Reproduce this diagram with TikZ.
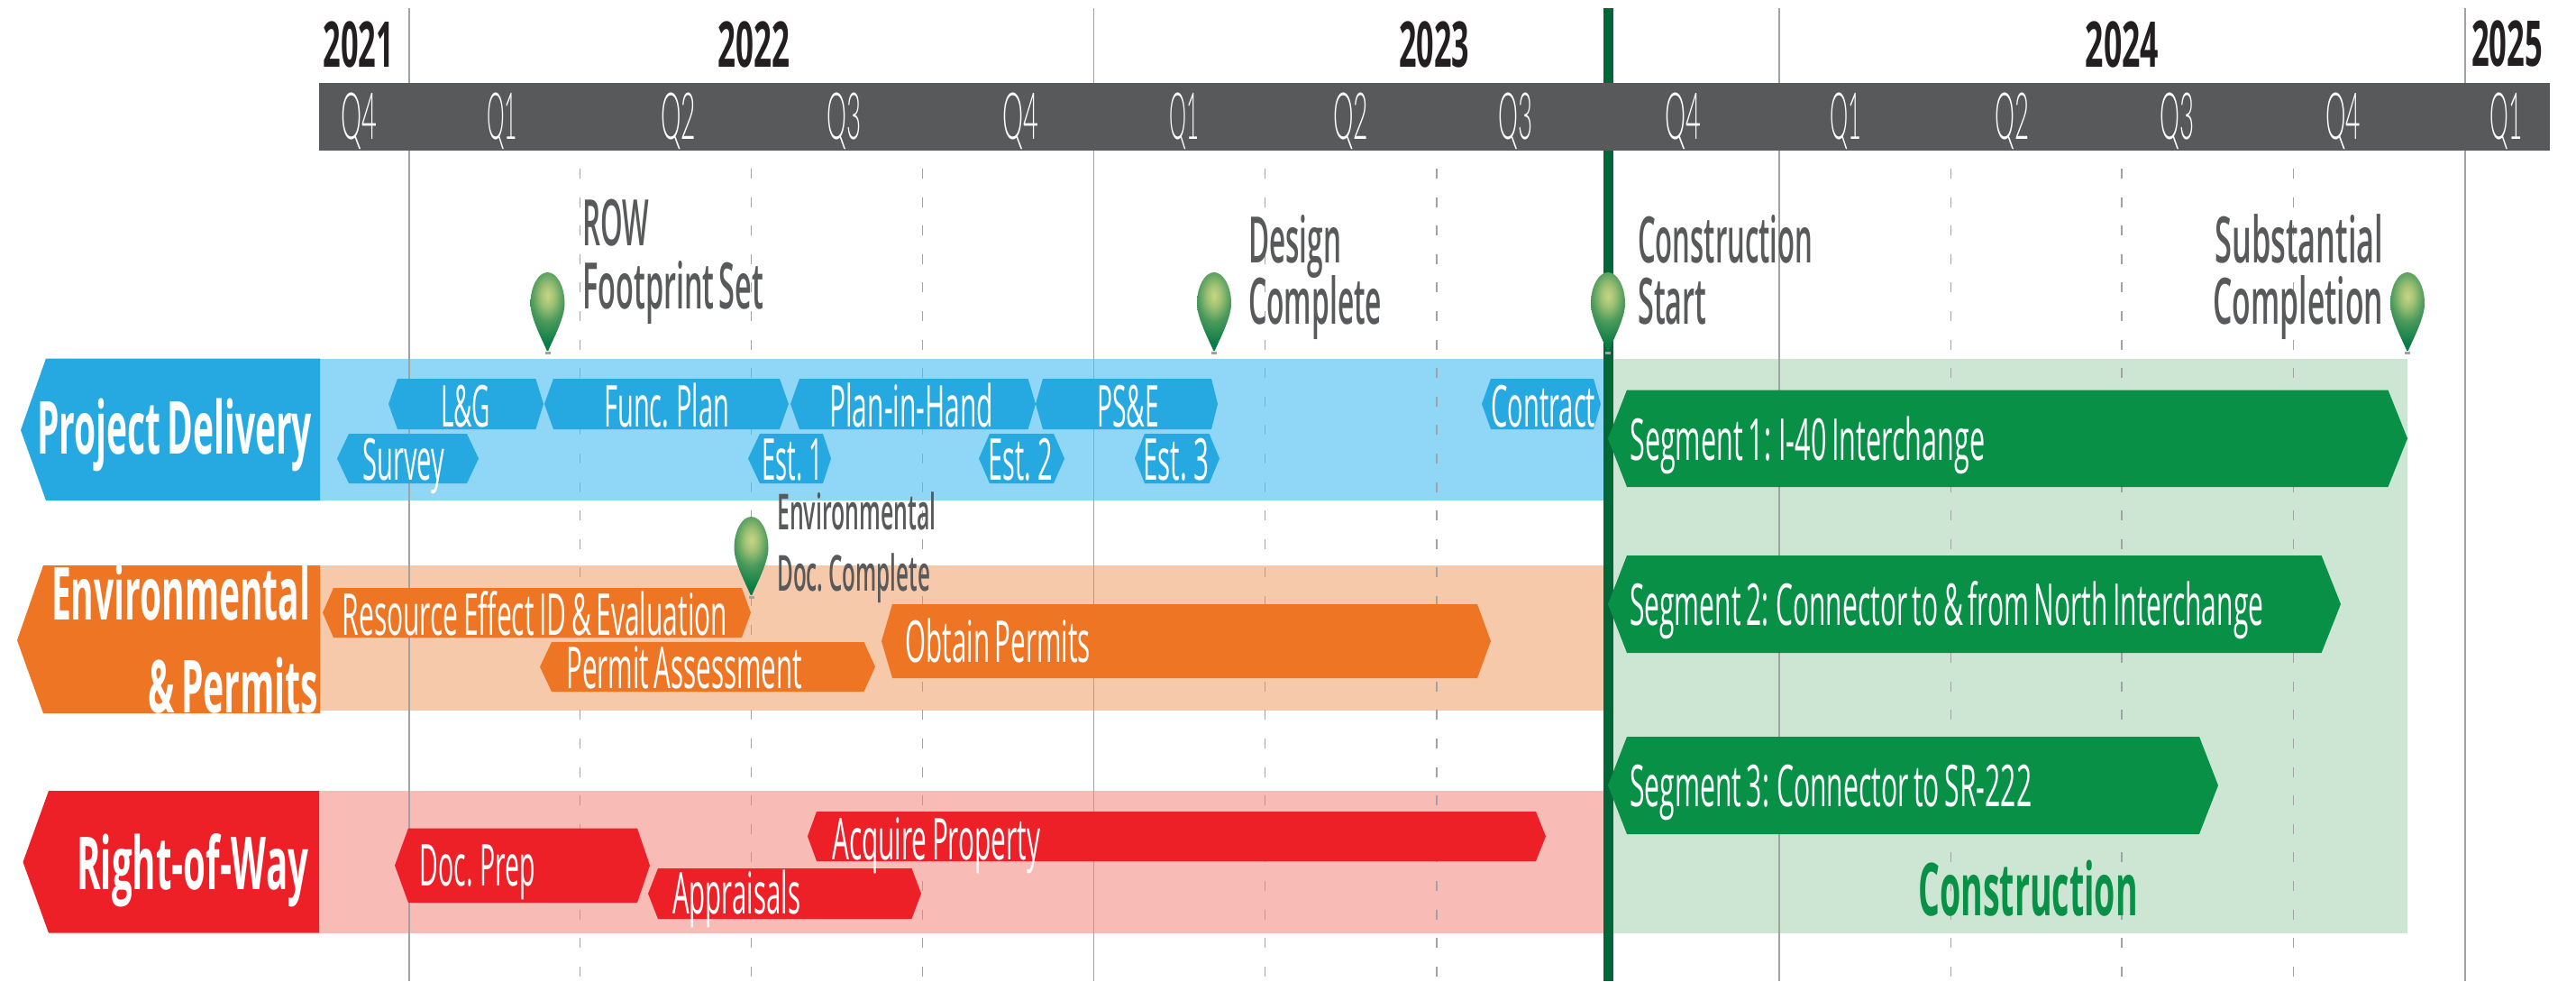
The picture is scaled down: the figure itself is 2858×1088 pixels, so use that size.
\documentclass[tikz,border=0pt]{standalone}
\usepackage{fontspec}
\usepackage{graphicx}
\setmainfont{Open Sans}
\newfontfamily\freg{Open Sans}[WordSpace=0.8]
\newfontfamily\fmid{Open Sans Semibold}[WordSpace=0.6]
\newfontfamily\fbold{Open Sans}[WordSpace=0.7,BoldFont={Open Sans Bold}]
\newcommand\fb{\fbold\bfseries}
\newfontfamily\flight{Lato Light}
\definecolor{bluehead}{HTML}{26A9E0}
\definecolor{blueband}{HTML}{8FD6F7}
\definecolor{orangehead}{HTML}{EE7524}
\definecolor{orangeband}{HTML}{F7C9AB}
\definecolor{redhead}{HTML}{ED1F27}
\definecolor{redband}{HTML}{F8BBB6}
\definecolor{greenhead}{HTML}{089146}
\definecolor{greenband}{HTML}{CDE6D4}
\definecolor{greenline}{HTML}{006837}
\definecolor{darkbar}{HTML}{58595B}
\definecolor{textgray}{HTML}{58595B}
\definecolor{yearblack}{HTML}{231F20}
\definecolor{pina}{HTML}{C8D585}
\definecolor{pinb}{HTML}{A0C274}
\definecolor{pinc}{HTML}{4C9A5C}
\definecolor{pind}{HTML}{0A7C45}
\definecolor{pine}{HTML}{057A43}
\definecolor{gridgray}{HTML}{A0A2A4}
\pgfdeclareradialshading{pinshade}{\pgfpoint{0bp}{0bp}}{color(0bp)=(pina); color(5bp)=(pinb); color(12bp)=(pinc); color(22bp)=(pind); color(50bp)=(pine)}
% name, x0, x1, baseline, size, colour, font, text
\newcommand\lab[8]{\node[inner sep=0pt,anchor=base west,text=#6] (#1) at (#2,#4) {\resizebox{\dimexpr #3pt-#2pt\relax}{\height}{#7\fontsize{#5}{#5}\selectfont #8}};}
% colour, left tip, left shoulder, right shoulder, right tip, top, bottom
\newcommand\hexbar[7]{\fill[#1] (#2,{(#6+#7)/2}) -- (#3,#6) -- (#4,#6) -- (#5,{(#6+#7)/2}) -- (#4,#7) -- (#3,#7) -- cycle;}
\newcommand\pinmark[2]{\begin{scope}[shift={(#1,#2)}]
  \fill[gridgray] (-3,88) rectangle (3,91);
  \begin{scope}
  \clip (0,89) .. controls (-3,80) and (-19,52) .. (-19,35) .. controls (-19,15) and (-10,0) .. (0,0) .. controls (10,0) and (19,15) .. (19,35) .. controls (19,52) and (3,80) .. (0,89) -- cycle;
  \shade[shading=pinshade] (-38,-34) rectangle (38,86);
  \end{scope}
\end{scope}}
\begin{document}
\begin{tikzpicture}[x=1pt,y=-1pt,
  solidgrid/.style={draw=gridgray,line width=1.6pt},
  dashgrid/.style={draw=gridgray,line width=1.6pt,dash pattern=on 11pt off 20.6pt}]
\useasboundingbox (0,0) rectangle (2858,1088);
\fill[white] (0,0) rectangle (2858,1088);
% bands
\fill[blueband] (354,397.5) rectangle (1784,555);
\fill[orangeband] (354,627) rectangle (1784,787.5);
\fill[redband] (354,877) rectangle (1784,1034.6);
\fill[greenband] (1784,397.5) rectangle (2671,1034.6);
% grid
\foreach \gx in {454,1213.5,1974,2735} \draw[solidgrid] (\gx,9) -- (\gx,1088);
\foreach \gx in {643.5,833.5,1023.5,1403.5,1594,2164.5,2354,2544.5} \draw[dashgrid] (\gx,187) -- (\gx,1088);
% green line
\fill[greenline] (1778.5,9) rectangle (1789.5,1088);
% header bar
\fill[darkbar] (354,92) rectangle (2828.5,166.5);
% heads
\fill[bluehead] (23,477) -- (51,397.5) -- (355,397.5) -- (355,555) -- (51,555) -- cycle;
\fill[orangehead] (19,710) -- (48,627) -- (355,627) -- (355,791) -- (48,791) -- cycle;
\fill[redhead] (25.5,956) -- (54,877) -- (354,877) -- (354,1034.6) -- (54,1034.6) -- cycle;
% blue bars
\hexbar{bluehead}{431}{441}{594.4}{603}{420}{476}
\hexbar{bluehead}{604}{614}{865}{875}{420}{476}
\hexbar{bluehead}{877}{887}{1140.6}{1149}{420}{476}
\hexbar{bluehead}{1149}{1157}{1344}{1351}{420}{476}
\hexbar{bluehead}{1644}{1654}{1768}{1776}{420}{476}
\hexbar{bluehead}{374}{387}{518}{531}{481}{536}
\hexbar{bluehead}{830}{843}{913}{922}{481}{536}
\hexbar{bluehead}{1086}{1098}{1169}{1181}{481}{536}
\hexbar{bluehead}{1259}{1270}{1341.6}{1353}{481}{536}
% orange bars
\hexbar{orangehead}{358}{370}{823}{833}{652}{707}
\hexbar{orangehead}{599}{612}{958.5}{971}{712}{767}
\hexbar{orangehead}{978}{990}{1639}{1654}{670}{752}
% red bars
\hexbar{redhead}{438}{453}{707}{721}{918.5}{1001}
\hexbar{redhead}{719}{730}{1011.5}{1022}{963}{1019}
\hexbar{redhead}{896}{906}{1704}{1715}{900}{955}
% green bars
\hexbar{greenhead}{1784}{1805}{2649.5}{2671}{432.5}{540}
\hexbar{greenhead}{1784}{1805}{2575.6}{2597}{616}{724}
\hexbar{greenhead}{1784}{1805}{2440}{2461}{817}{925}
% pins
\pinmark{607.5}{302}
\pinmark{1347}{302}
\pinmark{1784}{302}
\pinmark{2671}{302}
\pinmark{833.5}{573}
% years
\lab{y21}{358.4}{437}{74}{70}{yearblack}{\fb}{2021}
\lab{y22}{796}{876}{74}{70}{yearblack}{\fb}{2022}
\lab{y23}{1552}{1630}{74}{70}{yearblack}{\fb}{2023}
\lab{y24}{2313.6}{2395}{74}{70}{yearblack}{\fb}{2024}
\lab{y25}{2742}{2821}{73}{70}{yearblack}{\fb}{2025}
% quarters
\lab{q1}{378}{418}{154}{72}{white}{\flight}{Q4}
\lab{q2}{540}{574}{154}{72}{white}{\flight}{Q1}
\lab{q3}{733}{772}{154}{72}{white}{\flight}{Q2}
\lab{q4}{917}{955}{154}{72}{white}{\flight}{Q3}
\lab{q5}{1112}{1152}{154}{72}{white}{\flight}{Q4}
\lab{q6}{1297}{1330}{154}{72}{white}{\flight}{Q1}
\lab{q7}{1479}{1518}{154}{72}{white}{\flight}{Q2}
\lab{q8}{1662}{1700}{154}{72}{white}{\flight}{Q3}
\lab{q9}{1847}{1887}{154}{72}{white}{\flight}{Q4}
\lab{q10}{2030}{2065}{154}{72}{white}{\flight}{Q1}
\lab{q11}{2213}{2251}{154}{72}{white}{\flight}{Q2}
\lab{q12}{2396}{2434}{154}{72}{white}{\flight}{Q3}
\lab{q13}{2580}{2619}{154}{72}{white}{\flight}{Q4}
\lab{q14}{2762}{2798}{154}{72}{white}{\flight}{Q1}
% milestones
\lab{m1a}{646}{720}{272}{71}{textgray}{\fmid}{ROW}
\lab{m1b}{646}{847}{342}{71}{textgray}{\fmid}{Footprint Set}
\lab{m2a}{1385}{1488}{291}{71}{textgray}{\fmid}{Design}
\lab{m2b}{1385}{1533}{359}{71}{textgray}{\fmid}{Complete}
\lab{m3a}{1817}{2011}{291}{71}{textgray}{\fmid}{Construction}
\lab{m3b}{1817}{1893}{359}{71}{textgray}{\fmid}{Start}
\lab{m4a}{2457}{2644}{291}{71}{textgray}{\fmid}{Substantial}
\lab{m4b}{2455}{2644}{359}{71}{textgray}{\fmid}{Completion}
\lab{m5a}{862}{1038.5}{587}{55}{textgray}{\fmid}{Environmental}
\lab{m5b}{862}{1032}{655}{55}{textgray}{\fmid}{Doc. Complete}
% row heads
\lab{h1}{41}{346}{503.6}{81}{white}{\fb}{Project Delivery}
\lab{h2a}{57}{344}{687.5}{81}{white}{\fb}{Environmental}
\lab{h2b}{164.5}{353}{790}{81}{white}{\fb}{\& Permits}
\lab{h3}{85}{342}{986}{81}{white}{\fb}{Right-of-Way}
\lab{h4}{2128}{2371.6}{1015}{81}{greenhead}{\fb}{Construction}
% bar labels
\lab{b1}{489}{544}{473}{64}{white}{\freg}{L\&G}
\lab{b2}{670}{809}{473}{64}{white}{\freg}{Func. Plan}
\lab{b3}{920}{1102}{473}{64}{white}{\freg}{Plan-in-Hand}
\lab{b4}{1217}{1286}{473}{64}{white}{\freg}{PS\&E}
\lab{b5}{1654}{1770}{473}{64}{white}{\freg}{Contract}
\lab{b6}{402}{493}{532}{64}{white}{\freg}{Survey}
\lab{b7}{845}{913}{532}{64}{white}{\freg}{Est. 1}
\lab{b8}{1096}{1168}{532}{64}{white}{\freg}{Est. 2}
\lab{b9}{1268}{1341.5}{532}{64}{white}{\freg}{Est. 3}
\lab{b10}{379.5}{807}{704}{64}{white}{\freg}{Resource Effect ID \& Evaluation}
\lab{b11}{628}{890}{763}{64}{white}{\freg}{Permit Assessment}
\lab{b12}{1004.6}{1209.5}{734}{64}{white}{\freg}{Obtain Permits}
\lab{b13}{465.5}{594}{982}{64}{white}{\freg}{Doc. Prep}
\lab{b14}{746}{888}{1013.6}{64}{white}{\freg}{Appraisals}
\lab{b15}{923}{1154}{953.5}{64}{white}{\freg}{Acquire Property}
\lab{b16}{1808}{2202}{510}{64}{white}{\freg}{Segment 1: I-40 Interchange}
\lab{b17}{1808}{2511}{693}{64}{white}{\freg}{Segment 2: Connector to \& from North Interchange}
\lab{b18}{1808}{2254}{894}{64}{white}{\freg}{Segment 3: Connector to SR-222}
\end{tikzpicture}
\end{document}
